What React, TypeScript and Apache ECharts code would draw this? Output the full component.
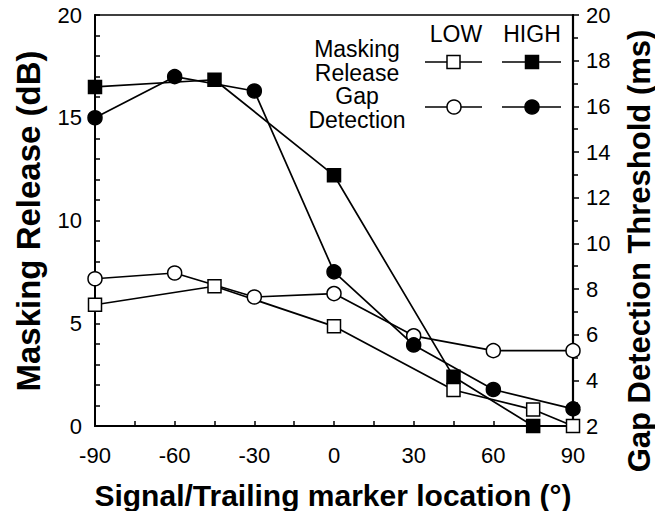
import React, { useEffect, useRef } from "react";
import * as echarts from "echarts";

const FONT = "'Liberation Sans', Arial, Helvetica, sans-serif";

// x: signal/trailing marker location (deg)
const xTicks = [-90, -60, -30, 0, 30, 60, 90];

// Masking release (dB), left axis
const mrLowX = [-90, -45, 0, 45, 75, 90];
const mrLowY = [5.9, 6.8, 4.85, 1.75, 0.8, 0];
const mrHighX = [-90, -45, 0, 45, 75];
const mrHighY = [16.5, 16.85, 12.2, 2.4, 0];

// Gap detection threshold (ms), right axis
const gdX = [-90, -60, -30, 0, 30, 60, 90];
const gdLowY = [8.45, 8.7, 7.65, 7.8, 5.95, 5.3, 5.3];
const gdHighY = [15.5, 17.3, 16.67, 8.75, 5.55, 3.6, 2.75];

const zip = (xs: number[], ys: number[]) => xs.map((x, i) => [x, ys[i]]);

export default function App() {
  const ref = useRef<HTMLDivElement>(null);
  useEffect(() => {
    if (!ref.current) return;
    const chart = echarts.init(ref.current, null, { renderer: "svg" });
    const black = "#000";
    const labelStyle = { color: black, fontSize: 22, fontFamily: FONT };
    const lineW = 1.7;
    const seriesBase = {
      type: "line" as const,
      clip: false,
      lineStyle: { color: black, width: lineW },
      symbolSize: 13,
    };
    const legendText = (text: string, x: number, y: number, lineHeight = 23) => ({
      type: "text",
      x,
      y,
      style: {
        text,
        fontSize: 23,
        lineHeight,
        fontFamily: FONT,
        fill: black,
        align: "center",
        verticalAlign: "middle",
      },
    });
    chart.setOption({
      animation: false,
      backgroundColor: "#fff",
      grid: {
        left: 95,
        right: 82,
        top: 15,
        bottom: 85,
        show: true,
        borderColor: black,
        borderWidth: 1.5,
        containLabel: false,
      },
      xAxis: {
        type: "value",
        min: xTicks[0],
        max: xTicks[xTicks.length - 1],
        interval: 30,
        axisLine: { show: true, onZero: false, lineStyle: { color: black, width: 2 } },
        axisTick: { show: true, inside: true, length: 5, lineStyle: { color: black, width: 1.5 } },
        minorTick: { show: true, splitNumber: 2, length: 5, lineStyle: { color: black, width: 1.5 } },
        splitLine: { show: false },
        axisLabel: { ...labelStyle, margin: 18 },
      },
      yAxis: [
        {
          type: "value",
          position: "left",
          min: 0,
          max: 20,
          interval: 5,
          axisLine: { show: true, onZero: false, lineStyle: { color: black, width: 2 } },
          axisTick: { show: true, inside: true, length: 5, lineStyle: { color: black, width: 1.5 } },
          minorTick: { show: true, splitNumber: 5, length: 5, lineStyle: { color: black, width: 1.5 } },
          splitLine: { show: false },
          axisLabel: { ...labelStyle, margin: 13 },
        },
        {
          type: "value",
          position: "right",
          min: 2,
          max: 20,
          interval: 2,
          axisLine: { show: true, onZero: false, lineStyle: { color: black, width: 2.2 } },
          axisTick: { show: true, inside: false, length: 6, lineStyle: { color: black, width: 1.5 } },
          minorTick: { show: true, splitNumber: 2, length: 5, lineStyle: { color: black, width: 1.5 } },
          splitLine: { show: false },
          axisLabel: { ...labelStyle, margin: 13 },
        },
      ],
      series: [
        {
          ...seriesBase,
          name: "Masking Release LOW",
          yAxisIndex: 0,
          symbol: "rect",
          itemStyle: { color: "#fff", borderColor: black, borderWidth: 1.5 },
          data: zip(mrLowX, mrLowY),
        },
        {
          ...seriesBase,
          name: "Masking Release HIGH",
          yAxisIndex: 0,
          symbol: "rect",
          itemStyle: { color: black, borderColor: black, borderWidth: 1.5 },
          data: zip(mrHighX, mrHighY),
        },
        {
          ...seriesBase,
          name: "Gap Detection LOW",
          yAxisIndex: 1,
          symbol: "circle",
          symbolSize: 14,
          itemStyle: { color: "#fff", borderColor: black, borderWidth: 1.5 },
          data: zip(gdX, gdLowY),
        },
        {
          ...seriesBase,
          name: "Gap Detection HIGH",
          yAxisIndex: 1,
          symbol: "circle",
          symbolSize: 14,
          itemStyle: { color: black, borderColor: black, borderWidth: 1.5 },
          data: zip(gdX, gdHighY),
        },
      ],
      graphic: [
        // axis titles
        {
          type: "text",
          x: 28,
          y: 221,
          rotation: Math.PI / 2,
          style: {
            text: "Masking Release (dB)",
            fontSize: 33,
            lineHeight: 33,
            fontWeight: "bold",
            fontFamily: FONT,
            fill: black,
            align: "center",
            verticalAlign: "middle",
          },
        },
        {
          type: "text",
          x: 639,
          y: 251,
          rotation: Math.PI / 2,
          style: {
            text: "Gap Detection Threshold (ms)",
            fontSize: 31,
            lineHeight: 30,
            fontWeight: "bold",
            fontFamily: FONT,
            fill: black,
            align: "center",
            verticalAlign: "middle",
          },
        },
        {
          type: "text",
          x: 333,
          y: 495,
          style: {
            text: "Signal/Trailing marker location (°)",
            fontSize: 30,
            lineHeight: 30,
            fontWeight: "bold",
            fontFamily: FONT,
            fill: black,
            align: "center",
            verticalAlign: "middle",
          },
        },
        // legend
        legendText("LOW", 456, 34),
        legendText("HIGH", 532, 34),
        legendText("Masking\nRelease\nGap\nDetection", 357, 84.5, 23.7),
        { type: "line", shape: { x1: 425, y1: 62, x2: 482, y2: 62 }, style: { stroke: black, lineWidth: lineW } },
        { type: "line", shape: { x1: 502, y1: 62, x2: 561, y2: 62 }, style: { stroke: black, lineWidth: lineW } },
        { type: "line", shape: { x1: 425, y1: 107, x2: 482, y2: 107 }, style: { stroke: black, lineWidth: lineW } },
        { type: "line", shape: { x1: 502, y1: 107, x2: 561, y2: 107 }, style: { stroke: black, lineWidth: lineW } },
        {
          type: "rect",
          shape: { x: 447, y: 55.5, width: 13, height: 13 },
          style: { fill: "#fff", stroke: black, lineWidth: 1.5 },
        },
        {
          type: "rect",
          shape: { x: 525.5, y: 55.5, width: 13, height: 13 },
          style: { fill: black, stroke: black, lineWidth: 1.5 },
        },
        {
          type: "circle",
          shape: { cx: 454, cy: 107, r: 7 },
          style: { fill: "#fff", stroke: black, lineWidth: 1.5 },
        },
        {
          type: "circle",
          shape: { cx: 532, cy: 107, r: 7 },
          style: { fill: black, stroke: black, lineWidth: 1.5 },
        },
      ],
    });
    return () => chart.dispose();
  }, []);
  return <div ref={ref} style={{ width: 655, height: 511, position: "absolute", left: 0, top: 0 }} />;
}
